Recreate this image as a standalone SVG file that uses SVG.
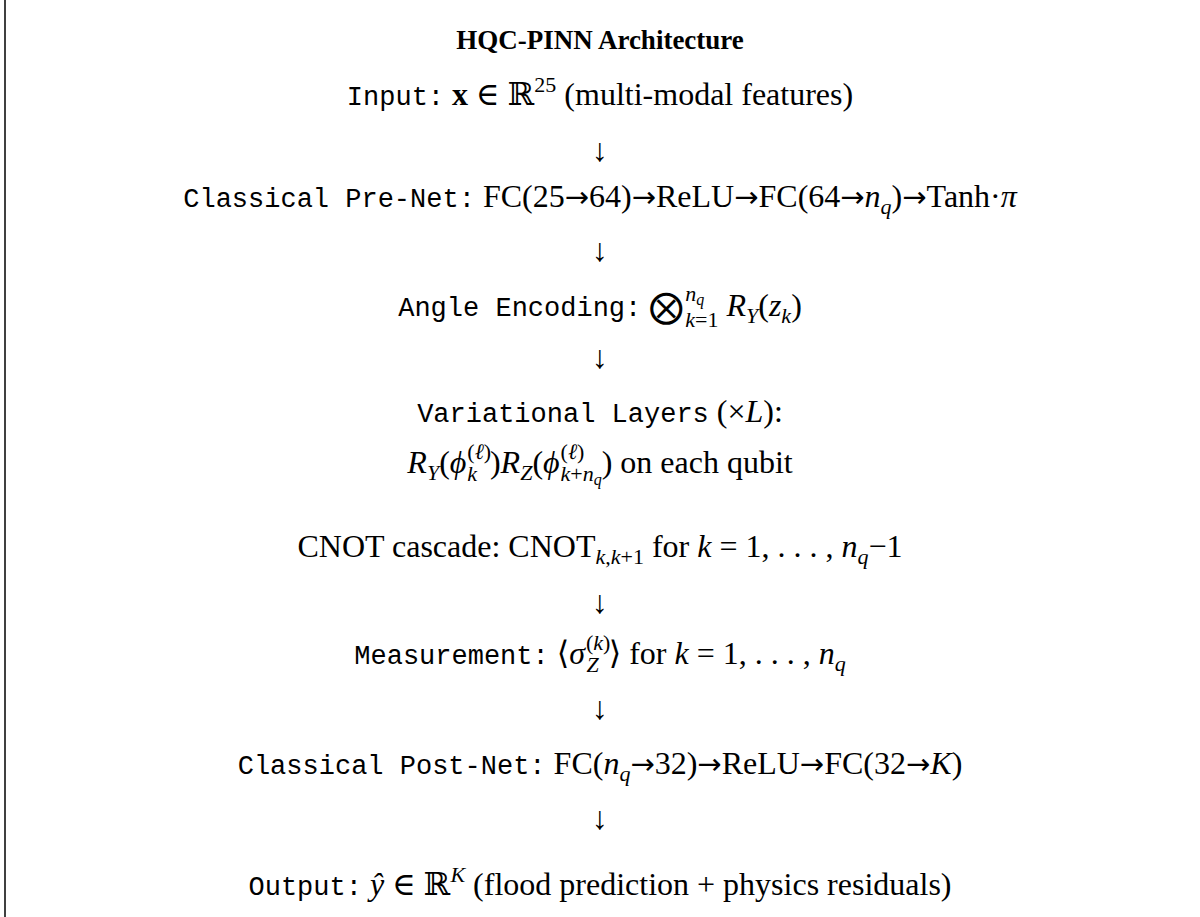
<svg xmlns="http://www.w3.org/2000/svg" width="1200" height="917" viewBox="0 0 1200 917">
<style>
text{font-family:"Liberation Serif","DejaVu Serif",serif;font-size:32px;fill:#000}
.c{text-anchor:middle}
.tt{font-family:"Liberation Mono","DejaVu Sans Mono",monospace;font-size:27px}
.it{font-style:italic}
.sm{font-size:22px}
.xs{font-size:16px}
.a{font-family:"DejaVu Sans",sans-serif;font-size:29px}
.title{font-weight:bold;font-size:27px}
.arr{font-family:"Liberation Serif","DejaVu Serif",serif;font-size:32px}
</style>
<rect width="1200" height="917" fill="#fff"/>
<line x1="5" y1="0" x2="5" y2="917" stroke="#000" stroke-width="1.5"/>
<g id="title"><text class="c title" x="600" y="49">HQC-PINN Architecture</text></g>
<g id="input"><text class="c" x="600" y="105"><tspan class="tt">Input:</tspan> <tspan font-weight="bold">x</tspan> ∈ ℝ<tspan class="sm" dy="-13">25</tspan><tspan dy="13"> (multi-modal features)</tspan></text></g>
<g id="prenet"><text class="c" x="600" y="207"><tspan class="tt">Classical Pre-Net:</tspan> FC(25<tspan class="a">→</tspan>64)<tspan class="a">→</tspan>ReLU<tspan class="a">→</tspan>FC(64<tspan class="a">→</tspan><tspan class="it">n</tspan><tspan class="sm it" dy="7">q</tspan><tspan dy="-7">)</tspan><tspan class="a">→</tspan>Tanh·<tspan class="it">π</tspan></text></g>
<g id="encoding"><text class="c" x="600" y="316"><tspan class="tt">Angle Encoding:</tspan> <tspan font-size="34" font-family="DejaVu Sans, sans-serif" dy="2">⨂</tspan><tspan class="sm it" dy="-17" dx="2">n</tspan><tspan class="xs it" dy="4">q</tspan><tspan class="sm" dx="-19" dy="22"><tspan class="it">k</tspan>=1</tspan><tspan dy="-11"> </tspan><tspan class="it">R</tspan><tspan class="sm it" dy="7">Y</tspan><tspan dy="-7">(</tspan><tspan class="it">z</tspan><tspan class="sm it" dy="7">k</tspan><tspan dy="-7">)</tspan></text></g>
<g id="variational"><text class="c" x="600" y="422"><tspan class="tt">Variational Layers</tspan> (×<tspan class="it">L</tspan>):</text>
<text class="c" x="600" y="473"><tspan class="it">R</tspan><tspan class="sm it" dy="7">Y</tspan><tspan dy="-7">(</tspan><tspan class="it">ϕ</tspan><tspan class="sm" dy="-14" dx="1">(<tspan class="it">ℓ</tspan>)</tspan><tspan class="sm it" dx="-24" dy="22">k</tspan><tspan dx="13" dy="-8">)</tspan><tspan class="it">R</tspan><tspan class="sm it" dy="7">Z</tspan><tspan dy="-7">(</tspan><tspan class="it">ϕ</tspan><tspan class="sm" dy="-14" dx="1">(<tspan class="it">ℓ</tspan>)</tspan><tspan class="sm" dx="-24" dy="22"><tspan class="it">k</tspan>+<tspan class="it">n</tspan></tspan><tspan class="xs it" dy="4">q</tspan><tspan dy="-12">) on each qubit</tspan></text>
<text class="c" x="600" y="557">CNOT cascade: CNOT<tspan class="sm" dy="7"><tspan class="it">k</tspan>,<tspan class="it">k</tspan>+1</tspan><tspan dy="-7"> for </tspan><tspan class="it">k</tspan> = 1, . . . , <tspan class="it">n</tspan><tspan class="sm it" dy="7">q</tspan><tspan dy="-7">−1</tspan></text></g>
<g id="measurement"><text class="c" x="600" y="664"><tspan class="tt">Measurement:</tspan> ⟨<tspan class="it">σ</tspan><tspan class="sm" dy="-14" dx="1">(<tspan class="it">k</tspan>)</tspan><tspan class="sm it" dx="-24" dy="22">Z</tspan><tspan dx="10" dy="-8">⟩ for </tspan><tspan class="it">k</tspan> = 1, . . . , <tspan class="it">n</tspan><tspan class="sm it" dy="7">q</tspan></text></g>
<g id="postnet"><text class="c" x="600" y="774"><tspan class="tt">Classical Post-Net:</tspan> FC(<tspan class="it">n</tspan><tspan class="sm it" dy="7">q</tspan><tspan dy="-7" class="a">→</tspan>32)<tspan class="a">→</tspan>ReLU<tspan class="a">→</tspan>FC(32<tspan class="a">→</tspan><tspan class="it">K</tspan>)</text></g>
<g id="output"><text class="c" x="600" y="895"><tspan class="tt">Output:</tspan> <tspan class="it">ŷ</tspan> ∈ ℝ<tspan class="sm it" dy="-13">K</tspan><tspan dy="13"> (flood prediction + physics residuals)</tspan></text></g>
<g id="connectors">
<text class="c arr" x="600" y="161">↓</text>
<text class="c arr" x="600" y="261">↓</text>
<text class="c arr" x="600" y="368">↓</text>
<text class="c arr" x="600" y="613">↓</text>
<text class="c arr" x="600" y="719">↓</text>
<text class="c arr" x="600" y="829">↓</text>
</g>
</svg>
